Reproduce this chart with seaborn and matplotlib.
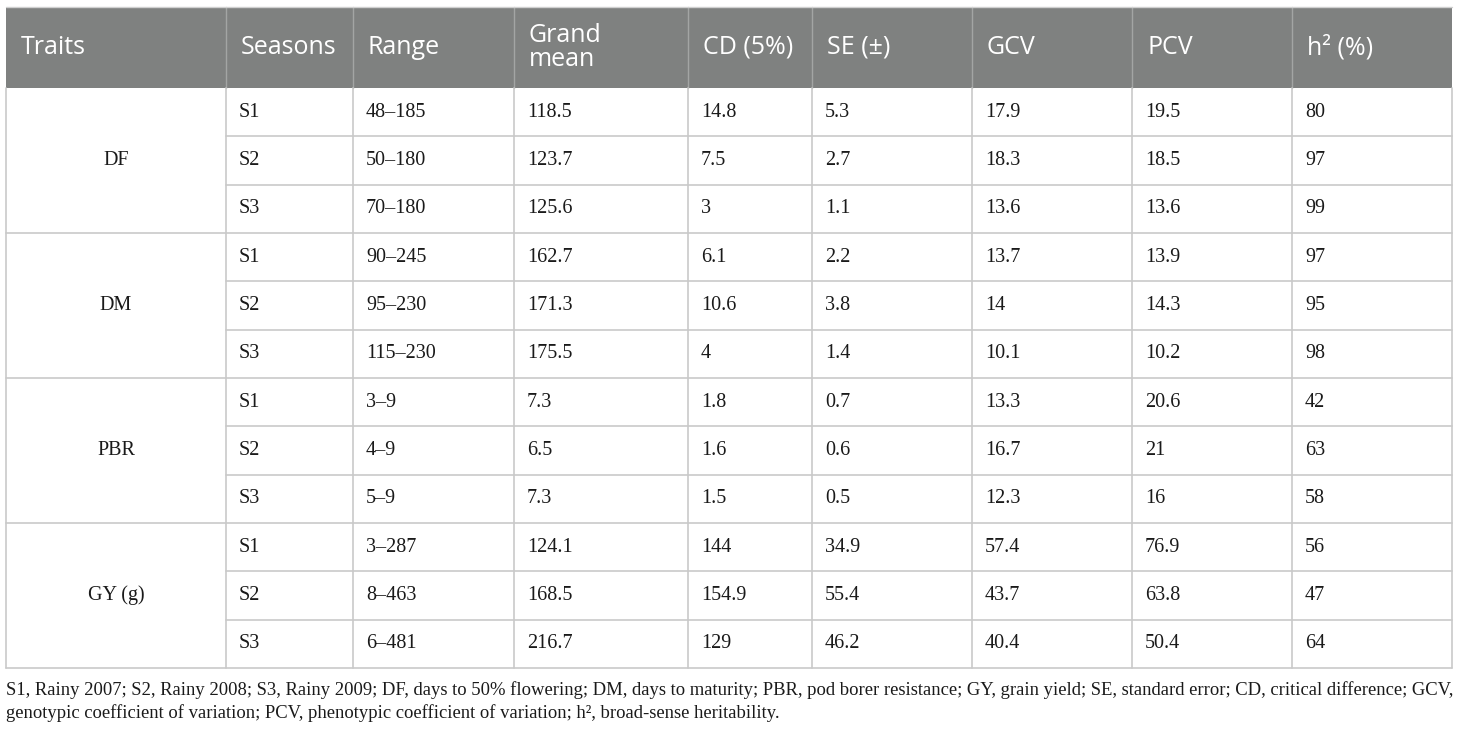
import matplotlib
matplotlib.use("Agg")
import matplotlib.pyplot as plt
import seaborn as sns

# table data
traits = ["DF", "DM", "PBR", "GY (g)"]
seasons = ["S1", "S2", "S3"]
ranges = ["48–185", "50–180", "70–180", "90–245", "95–230", "115–230",
          "3–9", "4–9", "5–9", "3–287", "8–463", "6–481"]
grand_mean = ["118.5", "123.7", "125.6", "162.7", "171.3", "175.5",
              "7.3", "6.5", "7.3", "124.1", "168.5", "216.7"]
cd_5 = ["14.8", "7.5", "3", "6.1", "10.6", "4", "1.8", "1.6", "1.5", "144", "154.9", "129"]
se = ["5.3", "2.7", "1.1", "2.2", "3.8", "1.4", "0.7", "0.6", "0.5", "34.9", "55.4", "46.2"]
gcv = ["17.9", "18.3", "13.6", "13.7", "14", "10.1", "13.3", "16.7", "12.3", "57.4", "43.7", "40.4"]
pcv = ["19.5", "18.5", "13.6", "13.9", "14.3", "10.2", "20.6", "21", "16", "76.9", "63.8", "50.4"]
h2 = ["80", "97", "99", "97", "95", "98", "42", "63", "58", "56", "47", "64"]
headers = ["Traits", "Seasons", "Range", "Grand\nmean", "CD (5%)", "SE (±)", "GCV", "PCV", "h² (%)"]
footnote = ["S1, Rainy 2007; S2, Rainy 2008; S3, Rainy 2009; DF, days to 50% flowering; DM, days to maturity; "
            "PBR, pod borer resistance; GY, grain yield; SE, standard error; CD, critical difference; GCV,",
            "genotypic coefficient of variation; PCV, phenotypic coefficient of variation; h², broad-sense heritability."]

sns.set_theme(style="white")
serif = ["Liberation Serif", "DejaVu Serif"]
sans = ["Open Sans", "DejaVu Sans"]

col_edges = [6, 226, 353, 514, 688, 812, 972, 1132, 1292, 1452]
head_top, head_bot = 7, 88
row_h = (668 - head_bot) / 12
line_col = "#c9c9c9"
head_col = "#7f8180"

fig = plt.figure(figsize=(14.6, 7.3), dpi=100)
ax = fig.add_axes([0, 0, 1, 1])
ax.set_xlim(0, 1460)
ax.set_ylim(730, 0)
ax.axis("off")

# header band
ax.add_patch(plt.Rectangle((col_edges[0], head_top), col_edges[-1] - col_edges[0],
                           head_bot - head_top, color=head_col, lw=0))
for x in col_edges[1:-1]:
    ax.plot([x, x], [head_top, head_bot], color="#a3a5a4", lw=1)
for i, h in enumerate(headers):
    ax.text(col_edges[i] + 15, (head_top + head_bot) / 2, h, color="white",
            fontsize=18, family=sans, va="center", ha="left", linespacing=1.0)

# body cells
body_cols = [None, ranges, grand_mean, cd_5, se, gcv, pcv, h2]
table_bot = head_bot + 12 * row_h
for r in range(12):
    y0 = head_bot + r * row_h
    yc = y0 + row_h / 2
    ax.text(col_edges[1] + 13, yc, seasons[r % 3], fontsize=14.5, family=serif,
            va="center", ha="left", color="#1a1a1a")
    for c in range(1, 8):
        ax.text(col_edges[c + 1] + 13, yc, body_cols[c][r], fontsize=14.5, family=serif,
                va="center", ha="left", color="#1a1a1a")
    if r > 0:
        x_start = col_edges[0] if r % 3 == 0 else col_edges[1]
        ax.plot([x_start, col_edges[-1]], [y0, y0], color=line_col, lw=1.2)

for g, t in enumerate(traits):
    ax.text((col_edges[0] + col_edges[1]) / 2, head_bot + (3 * g + 1.5) * row_h, t,
            fontsize=14.5, family=serif, va="center", ha="center", color="#1a1a1a")

for x in col_edges:
    ax.plot([x, x], [head_bot, table_bot], color=line_col, lw=1.2)
ax.plot([col_edges[0], col_edges[-1]], [table_bot, table_bot], color=line_col, lw=1.2)
ax.plot([col_edges[0], col_edges[-1]], [head_top, head_top], color="#d0d0d0", lw=1)

# footnote, first line stretched to the table width
t1 = ax.text(col_edges[0], 690, footnote[0], fontsize=13, family=serif, va="center", ha="left", color="#1a1a1a")
fig.canvas.draw()
w = t1.get_window_extent().width
fs = 13 * (col_edges[-1] - col_edges[0]) / w
t1.set_fontsize(fs)
ax.text(col_edges[0], 713, footnote[1], fontsize=fs, family=serif, va="center", ha="left", color="#1a1a1a")

fig.savefig("out.png", dpi=100, facecolor="white")
